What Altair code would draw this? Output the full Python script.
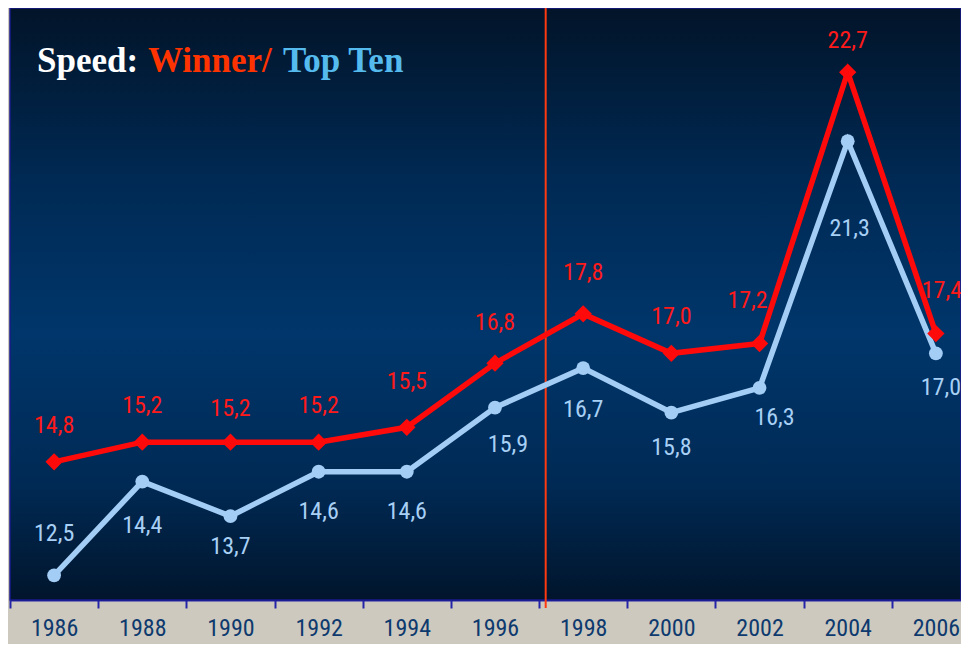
import altair as alt
import pandas as pd

# ---- data ----
years = [1986, 1988, 1990, 1992, 1994, 1996, 1998, 2000, 2002, 2004, 2006]
winner = [14.8, 15.2, 15.2, 15.2, 15.5, 16.8, 17.8, 17.0, 17.2, 22.7, 17.4]
top_ten = [12.5, 14.4, 13.7, 14.6, 14.6, 15.9, 16.7, 15.8, 16.3, 21.3, 17.0]
marker_year = [1997.15]
grid_values = [16, 20]

# label nudges (pixels) - layout only
WINNER_NUDGE = {1986: (0, -36), 1988: (0, -36), 1990: (0, -33), 1992: (0, -36), 1994: (0, -45),
                1996: (0, -40), 1998: (0, -41), 2000: (0, -36), 2002: (-12, -42), 2004: (0, -31),
                2006: (6, -43)}
TOP_NUDGE = {1986: (0, -41), 1988: (0, 44), 1990: (0, 31), 1992: (0, 40), 1994: (0, 40),
             1996: (13, 37), 1998: (0, 42), 2000: (0, 35), 2002: (15, 30), 2004: (2, 88),
             2006: (5, 35)}

PX_YEAR = 44.09
W, H = 951, 592
X_DOMAIN = [1985, 1985 + W / PX_YEAR]

RED = "#ff0a0a"
BLUE = "#a3cdf5"
NUM_FONT = "Roboto Condensed"

def fmt(v):
    return f"{v:.1f}".replace(".", ",")

df_w = pd.DataFrame({"year": years, "value": winner, "label": [fmt(v) for v in winner]})
df_t = pd.DataFrame({"year": years, "value": top_ten, "label": [fmt(v) for v in top_ten]})
one = pd.DataFrame({"a": [0]})

x_enc = alt.X("year:Q", scale=alt.Scale(domain=X_DOMAIN, nice=False, zero=False),
              axis=alt.Axis(values=years, title=None, format="d", grid=False,
                            tickOffset=-PX_YEAR, labelOffset=PX_YEAR,
                            domainColor="#2424a8", domainWidth=2,
                            tickColor="#2424a8", tickWidth=2, tickSize=8,
                            labelFont=NUM_FONT, labelFontSize=24, labelColor="#0e3a6e",
                            labelPadding=8, labelFlush=False))
y_enc = alt.Y("value:Q", scale=alt.Scale(domain=[12, 24], nice=False, zero=False),
              axis=alt.Axis(values=grid_values, title=None, labels=False, ticks=False,
                            domain=False, grid=True, gridDash=[7, 5], gridColor="#15259a",
                            gridWidth=1))

gradient = alt.Gradient(
    gradient="linear", x1=0, x2=0, y1=0, y2=1,
    stops=[alt.GradientStop(color="#021429", offset=0),
           alt.GradientStop(color="#002a55", offset=0.3),
           alt.GradientStop(color="#00366b", offset=0.55),
           alt.GradientStop(color="#002a55", offset=0.8),
           alt.GradientStop(color="#01152c", offset=1)])

panel = alt.Chart(one).mark_rect(fill=gradient, stroke="#1a1a8c", strokeWidth=1.5).encode(
    x=alt.value(0), x2=alt.value(W), y=alt.value(0), y2=alt.value(H))

grid_layer = alt.Chart(df_w).mark_line(opacity=0).encode(x=x_enc, y=y_enc)

vline = alt.Chart(pd.DataFrame({"year": marker_year})).mark_rule(
    color="#ff3a10", strokeWidth=2).encode(x=alt.X("year:Q"), y=alt.value(0), y2=alt.value(H + 8))

line_t = alt.Chart(df_t).mark_line(color=BLUE, strokeWidth=5.5).encode(x=x_enc, y=y_enc)
pts_t = alt.Chart(df_t).mark_point(shape="circle", filled=True, size=190, color=BLUE, opacity=1).encode(x=x_enc, y=y_enc)
line_w = alt.Chart(df_w).mark_line(color=RED, strokeWidth=5.5).encode(x=x_enc, y=y_enc)
pts_w = alt.Chart(df_w).mark_point(shape="diamond", filled=True, size=300, color=RED, opacity=1).encode(x=x_enc, y=y_enc)

def label_layers(df, nudges, color):
    layers = []
    groups = {}
    for yr in df["year"]:
        groups.setdefault(nudges[yr], []).append(yr)
    for (dx, dy), yrs in groups.items():
        layers.append(
            alt.Chart(df[df["year"].isin(yrs)]).mark_text(
                dx=dx, dy=dy, align="center", baseline="middle",
                font=NUM_FONT, fontSize=24, color=color
            ).encode(x=x_enc, y=y_enc, text="label:N"))
    return layers

title_parts = [("Speed:", "#ffffff", 27), ("Winner/", "#ff3300", 138), ("Top Ten", "#55bbee", 273)]
title_layers = [
    alt.Chart(one).mark_text(text=t, align="left", baseline="alphabetic", font="Liberation Serif",
                             fontWeight="bold", fontSize=35, color=c).encode(x=alt.value(xp), y=alt.value(64))
    for t, c, xp in title_parts]

chart = alt.layer(
    panel, grid_layer, vline, line_t, pts_t, line_w, pts_w,
    *label_layers(df_w, WINNER_NUDGE, "#ff1a1a"),
    *label_layers(df_t, TOP_NUDGE, "#a8d0f5"),
    *title_layers,
).properties(
    width=W, height=H,
    padding={"left": 2, "top": 0, "right": 0, "bottom": 44},
    autosize=alt.AutoSizeParams(type="none"),
    background="#cdc9bf",
).configure_view(strokeWidth=0)

chart.save("out.html", embed_options={"renderer": "svg", "actions": False})
